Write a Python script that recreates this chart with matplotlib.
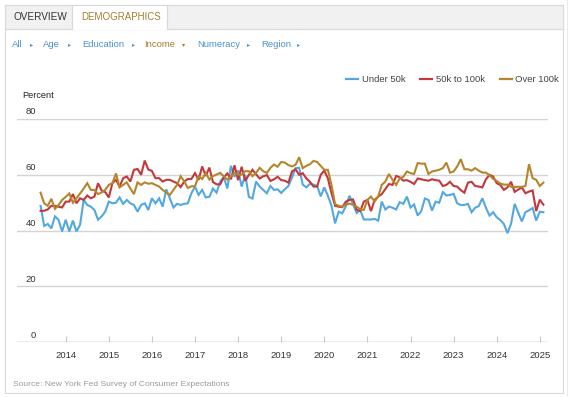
import matplotlib
matplotlib.use("Agg")
import matplotlib.pyplot as plt
from matplotlib.patches import Rectangle
from matplotlib.lines import Line2D
import numpy as np

plt.rcParams['font.family'] = ['Liberation Sans', 'DejaVu Sans']

# monthly readings, Jun 2013 .. Feb 2025
start_year, start_month = 2013, 6
under_50k = [
    48.9, 41.7, 42.4, 40.8, 45.1, 43.9, 39.7, 43.9, 39.7, 43.6, 39.7, 42.1,
    51.0, 49.2, 48.6, 47.4, 43.9, 45.1, 46.8, 50.4, 49.8, 50.0, 51.9, 49.6,
    51.0, 49.8, 49.2, 46.8, 49.2, 49.8, 47.4, 51.6, 49.8, 51.6, 48.6, 54.8,
    51.6, 48.3, 49.6, 49.2, 49.6, 49.8, 53.4, 55.8, 52.8, 54.6, 51.9, 52.1,
    55.1, 53.6, 57.6, 59.3, 55.1, 63.2, 59.3, 61.6, 55.8, 60.0, 52.1, 51.5,
    57.6, 55.8, 54.6, 53.4, 56.0, 54.6, 54.8,
    53.5, 54.8, 56.0, 59.0, 62.4, 62.5, 56.5, 55.5, 56.8, 56.5, 56.0, 52.3,
    55.5, 52.5, 49.0, 42.6, 46.8, 46.2, 48.7, 52.5, 49.5, 46.3, 47.4, 44.0,
    44.0, 44.0, 44.2, 43.6, 50.4, 47.6, 48.6, 48.2, 47.6, 50.2, 49.6, 52.2,
    48.3, 49.4, 45.4, 47.0, 51.5, 51.0, 47.2, 50.4, 50.0, 53.8, 52.6, 52.8,
    53.2, 49.8, 49.2, 49.2, 49.6, 46.6, 48.2, 48.8, 51.6, 48.2, 45.4, 46.6,
    44.8, 43.8, 42.4, 39.1, 42.5, 49.6, 46.4, 43.3, 46.6, 47.3, 48.1, 43.6,
    46.8, 46.6,
]
k50_to_100k = [
    47.1, 47.1, 47.6, 48.9, 48.9, 48.6, 48.3, 50.4, 50.4, 53.1, 49.8, 51.6,
    51.0, 52.6, 51.6, 52.2, 57.0, 54.4, 53.8, 51.9, 57.0, 58.2, 55.8, 58.8,
    59.4, 57.6, 61.8, 62.1, 60.0, 65.1, 61.9, 61.4, 58.8, 58.8, 57.6, 58.2,
    58.2, 57.6, 57.0, 55.6, 57.6, 58.5, 58.5, 60.6, 58.2, 63.0, 59.6, 62.6,
    57.4, 56.6, 56.6, 59.0, 60.5, 58.4, 63.4, 58.1, 62.9, 57.8, 60.0, 61.8,
    60.2, 58.7, 59.5, 59.9, 57.8, 58.4, 59.3,
    58.1, 57.9, 57.2, 61.2, 62.0, 60.0, 60.6, 58.7, 57.5, 55.8, 55.8, 60.0,
    61.5, 58.7, 53.4, 48.9, 48.6, 48.4, 50.4, 51.0, 51.2, 47.5, 47.0, 50.4,
    51.0, 47.0, 51.0, 52.2, 53.1, 54.9, 56.7, 56.4, 59.6, 59.1, 57.9, 58.1,
    57.5, 56.7, 58.7, 58.4, 58.1, 57.9, 58.4, 58.1, 57.9, 56.0, 56.4, 57.5,
    56.0, 55.8, 54.5, 53.6, 57.2, 57.5, 56.0, 55.8, 55.5, 58.4, 60.0, 59.4,
    57.0, 56.4, 54.6, 55.5, 57.5, 53.9, 54.7, 55.5, 53.4, 54.0, 54.4, 47.0,
    51.1, 49.3,
]
over_100k = [
    53.6, 49.8, 48.9, 51.4, 47.8, 49.2, 51.0, 52.1, 53.3, 50.0, 51.6, 53.3,
    55.1, 57.0, 54.6, 54.6, 53.1, 53.7, 54.6, 56.4, 57.0, 60.5, 55.5, 56.4,
    57.3, 55.1, 53.1, 57.3, 56.4, 57.3, 56.8, 57.0, 56.4, 55.8, 54.6, 53.6,
    52.8, 54.6, 56.4, 59.5, 57.7, 55.3, 55.9, 55.9, 59.5, 58.5, 60.7, 58.3,
    59.5, 60.1, 60.7, 59.5, 58.3, 59.5, 60.7, 60.1, 60.1, 61.3, 61.3, 59.5,
    60.7, 62.5, 61.3, 60.7, 62.5, 63.7, 62.9,
    64.6, 64.4, 63.5, 63.0, 63.6, 66.3, 62.4, 63.2, 63.8, 65.0, 64.6, 63.2,
    61.8, 61.8, 56.4, 49.5, 48.9, 48.6, 49.3, 49.7, 49.3, 48.6, 47.7, 47.4,
    51.0, 52.2, 50.4, 52.2, 56.4, 57.6, 60.3, 58.2, 56.4, 58.7, 59.3, 61.2,
    60.6, 60.3, 64.2, 64.0, 64.0, 60.3, 61.2, 61.5, 61.8, 62.4, 64.4, 60.8,
    61.2, 63.0, 65.6, 62.0, 62.0, 61.5, 62.4, 61.5, 60.8, 60.8, 59.8, 58.6,
    57.8, 56.9, 56.5, 56.5, 55.7, 55.7, 55.7, 55.7, 56.0, 63.8, 58.8, 58.2,
    56.0, 57.2,
]
series_names = ["Under 50k", "50k to 100k", "Over 100k"]
series_colors = ["#52a8e0", "#c3383b", "#b5852c"]
year_ticks = list(range(2014, 2026))
y_ticks = [0, 20, 40, 60, 80]

W, H = 570, 397
def fx(x): return x / W
def fy(y): return 1 - y / H

fig = plt.figure(figsize=(W / 100, H / 100), dpi=100)

# page chrome: tab bar + panel
fig.patches.append(Rectangle((fx(5), fy(393)), fx(558), (393 - 29) / H, transform=fig.transFigure,
                             facecolor="white", edgecolor="#d9d9d9", lw=0.8, zorder=0))
fig.patches.append(Rectangle((fx(5), fy(29)), fx(558), 24 / H, transform=fig.transFigure,
                             facecolor="#f1f1f1", edgecolor="#d9d9d9", lw=0.8, zorder=0))
fig.patches.append(Rectangle((fx(72), fy(29.5)), fx(95), 24.5 / H, transform=fig.transFigure,
                             facecolor="white", edgecolor="none", zorder=0))
fig.lines.append(Line2D([fx(72), fx(72), fx(167), fx(167)], [fy(29), fy(5), fy(5), fy(29)],
                        transform=fig.transFigure, color="#d9d9d9", lw=0.8))
fig.lines.append(Line2D([fx(566.5), fx(566.5)], [fy(0), fy(397)],
                        transform=fig.transFigure, color="#ececec", lw=0.8))
fig.text(fx(13), fy(17), "OVERVIEW", fontsize=7.2, color="#333333", va="center")
fig.text(fx(81), fy(17), "DEMOGRAPHICS", fontsize=7.0, color="#a87c30", va="center")

filters = [("All", 12, 30), ("Age", 43, 68), ("Education", 82, 132),
           ("Income", 144, 182), ("Numeracy", 197, 247), ("Region", 261, 297)]
for name, xt, xa in filters:
    col = "#a87c30" if name == "Income" else "#4b93cc"
    fig.text(fx(xt), fy(44.5), name, fontsize=6.8, color=col, va="center")
    fig.text(fx(xa), fy(44.5), "\u25be" if name == "Income" else "\u25b8", fontsize=4.5,
             color=col, va="center", family=["DejaVu Sans"])

# legend
leg_pos = [(345.5, 361.5), (420, 436), (500, 515)]
for (hx, tx), name, col in zip(leg_pos, series_names, series_colors):
    fig.lines.append(Line2D([fx(hx), fx(hx + 12)], [fy(79.3), fy(79.3)], transform=fig.transFigure,
                            color=col, lw=1.6))
    fig.text(fx(tx), fy(79.3), name, fontsize=6.8, color="#444444", va="center")

fig.text(fx(22), fy(95), "Percent", fontsize=6.6, color="#222222", va="center")
fig.text(fx(13), fy(385), "Source: New York Fed Survey of Consumer Expectations",
         fontsize=6.1, color="#9a9a9a", va="center")

# chart
ax = fig.add_axes([fx(17), fy(342.3), (548 - 17) / W, (342.3 - 119) / H], zorder=2)
ax.patch.set_alpha(0)
t = np.array([start_year + (start_month - 1 + i) / 12 for i in range(len(under_50k))])
for vals, col in zip([under_50k, k50_to_100k, over_100k], series_colors):
    ax.plot(t, vals, color=col, lw=1.5, solid_joinstyle="miter")

ax.set_xlim(2014 + (17 - 65.7) / 43.1, 2014 + (548 - 65.7) / 43.1)
ax.set_ylim(0, 80)
for s in ax.spines.values():
    s.set_visible(False)
ax.set_yticks(y_ticks)
ax.set_yticklabels([])
ax.tick_params(axis="y", length=0)
ax.grid(axis="y", color="#d4d4d4", lw=1.0)
ax.axhline(0, color="#c8c8c8", lw=1.0, zorder=0)
ax.set_axisbelow(True)
for v in y_ticks:
    ax.annotate(str(v), xy=(0.0355, v), xycoords=ax.get_yaxis_transform(),
                xytext=(0, 5.2), textcoords="offset points", ha="right", va="center",
                fontsize=6.8, color="#333333")
ax.set_xticks(year_ticks)
ax.set_xticklabels([str(y) for y in year_ticks])
ax.tick_params(axis="x", direction="in", length=4, width=0.8, color="#c8c8c8",
               pad=6, labelsize=6.8, labelcolor="#333333")

fig.savefig("out.png", dpi=100)
